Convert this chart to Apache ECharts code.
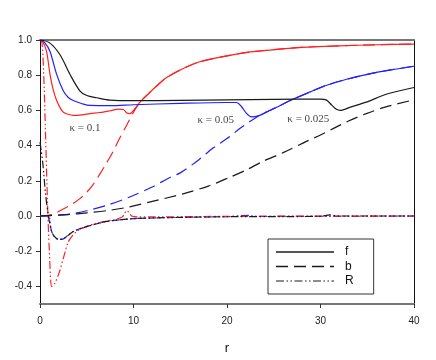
<!DOCTYPE html>
<html>
<head>
<meta charset="utf-8">
<script src="https://cdn.jsdelivr.net/npm/echarts@6/dist/echarts.min.js"></script>
<style>
  html, body { margin: 0; padding: 0; background: #fff; }
  #chart { width: 436px; height: 360px; }
</style>
</head>
<body>
<div id="chart"></div>
<script>
// r values and profiles, [r, value]
var fK0025 = [[0,1],[1,0.985],[2.14,0.916],[3.2,0.805],[4.28,0.71],[5,0.685],[6.06,0.672],[7.5,0.658],[10,0.655],[15,0.657],[20,0.66],[25,0.663],[30,0.664],[30.6,0.66],[31.2,0.63],[31.7,0.606],[32.1,0.6],[33.2,0.619],[34.9,0.647],[37.1,0.693],[40,0.73]]
var bK0025 = [[0,0],[3,0.008],[5,0.018],[7.5,0.033],[9.6,0.052],[11.8,0.08],[15.3,0.126],[18,0.17],[20.3,0.22],[22,0.26],[23.9,0.312],[26,0.36],[28.5,0.424],[30,0.46],[31.4,0.498],[33,0.54],[34.9,0.582],[37,0.62],[40,0.66]]
var RK0025 = [[0,0.42],[0.3,0.3],[0.6,0.12],[0.9,0],[1.2,-0.08],[1.5,-0.115],[2,-0.133],[2.5,-0.13],[3,-0.11],[3.5,-0.09],[4,-0.078],[5,-0.06],[6,-0.045],[7,-0.032],[8,-0.025],[10,-0.015],[15,-0.008],[20,-0.004],[30,-0.002],[31,0.006],[32,0],[40,0]]

var fK005 = [[0,1],[0.5,0.985],[1.07,0.935],[1.78,0.805],[2.5,0.71],[3,0.675],[3.56,0.656],[4.5,0.638],[5.35,0.628],[7.5,0.627],[10,0.632],[15,0.64],[20,0.645],[21,0.645],[21.5,0.625],[22.1,0.582],[22.6,0.563],[23.5,0.572],[24.5,0.598],[25.7,0.628],[26.7,0.655],[28.9,0.705],[30.5,0.74],[32.8,0.777],[35,0.805],[37.5,0.83],[40,0.851]]
var bK005 = [[0,0],[2,0.005],[3.2,0.011],[5,0.03],[7.1,0.06],[9.6,0.108],[12,0.165],[13.9,0.219],[15,0.245],[17,0.32],[18.5,0.386],[20,0.44],[21.4,0.498],[22.4,0.535],[23.2,0.563],[23.5,0.572],[24.5,0.598],[25.7,0.628],[26.7,0.655],[28.9,0.705],[30.5,0.74],[32.8,0.777],[35,0.805],[37.5,0.83],[40,0.851]]
var RK005 = [[0,0],[0.9,0],[1.2,-0.08],[1.5,-0.115],[2,-0.133],[2.5,-0.13],[3,-0.11],[3.5,-0.09],[4,-0.078],[5,-0.06],[6,-0.045],[7,-0.032],[8,-0.025],[10,-0.015],[15,-0.008],[20,-0.004],[22.3,0.004],[23,-0.002],[30,-0.002],[40,0]]

var fK01 = [[0,1],[0.3,0.99],[0.7,0.935],[1.07,0.805],[1.4,0.72],[1.78,0.656],[2.2,0.61],[2.5,0.59],[3,0.578],[3.56,0.572],[4.5,0.575],[5.35,0.582],[6.4,0.588],[7.5,0.598],[8.4,0.607],[8.9,0.605],[9.3,0.585],[9.6,0.582],[10,0.6],[10.7,0.647],[11.5,0.69],[12.5,0.74],[13.5,0.785],[15,0.83],[17,0.875],[20,0.91],[22.5,0.932],[25,0.945],[28,0.958],[32,0.967],[36,0.973],[40,0.977]]
var bK01 = [[0,0],[1,0.005],[1.6,0.015],[2.5,0.04],[3.5,0.07],[4.3,0.1],[5,0.135],[5.7,0.18],[6.4,0.238],[7.1,0.3],[7.84,0.368],[8.5,0.44],[9.27,0.516],[10,0.59],[10.7,0.647],[11.5,0.69],[12.5,0.74],[13.5,0.785],[15,0.83],[17,0.875],[20,0.91],[22.5,0.932],[25,0.945],[28,0.958],[32,0.967],[36,0.973],[40,0.977]]
var RK01 = [[0,1],[0.2,0.99],[0.4,0.8],[0.6,0.45],[0.8,0.08],[1,-0.2],[1.25,-0.4],[1.5,-0.39],[2,-0.33],[2.5,-0.24],[3,-0.15],[3.5,-0.11],[4,-0.085],[5,-0.058],[6,-0.042],[7,-0.03],[8,-0.02],[8.8,-0.005],[9.3,0.03],[9.8,0],[10.5,-0.005],[12,-0.005],[20,-0.002],[40,0]]

var yTicks = [-0.4, -0.2, 0, 0.2, 0.4, 0.6, 0.8, 1.0]
var kappaLabels = [['κ = 0.1', 4.8, 0.498], ['κ = 0.05', 18.8, 0.544], ['κ = 0.025', 28.7, 0.55]]

var BLACK = '#1a1a1a', BLUE = '#1f1fff', RED = '#ff2020'
var DASH = [12, 6]
var DASHDOT = [8, 2.5, 1.5, 2.5, 1.5, 2.5]

function curve(name, data, color, type) {
  return {
    name: name, type: 'line', data: data, symbol: 'none', showSymbol: false,
    smooth: 0.3, silent: true,
    lineStyle: { color: color, width: 1.2, type: type }
  }
}

var chart = echarts.init(document.getElementById('chart'), null, { renderer: 'canvas' })

var series = [
  curve('R', RK005, BLUE, DASHDOT),
  curve('R', RK01, RED, DASHDOT),
  curve('R', RK0025, BLACK, DASHDOT),
  curve('b', bK01, RED, DASH),
  curve('b', bK005, BLUE, DASH),
  curve('b', bK0025, BLACK, DASH),
  curve('f', fK01, RED, 'solid'),
  curve('f', fK005, BLUE, 'solid'),
  curve('f', fK0025, BLACK, 'solid'),
  {
    type: 'scatter', symbolSize: 0, silent: true,
    data: kappaLabels.map(function (k) { return { name: k[0], value: [k[1], k[2]] } }),
    label: {
      show: true, position: 'inside', formatter: '{b}',
      fontFamily: 'Liberation Serif', fontSize: 11, color: '#111'
    }
  }
]

var hidden = { color: 'rgba(0,0,0,0)', borderWidth: 0, opacity: 0 }

chart.setOption({
  animation: false,
  backgroundColor: '#fff',
  grid: { left: 40, right: 22, top: 40, bottom: 51 },
  legend: {
    data: [
      { name: 'f', itemStyle: hidden, lineStyle: { color: '#555', width: 2, type: 'solid', opacity: 1 } },
      { name: 'b', itemStyle: hidden, lineStyle: { color: BLACK, width: 1.3, type: DASH, opacity: 1 } },
      { name: 'R', itemStyle: hidden, lineStyle: { color: BLACK, width: 1.2, type: DASHDOT, opacity: 1 } }
    ],
    orient: 'vertical', left: 268, top: 239,
    itemWidth: 58, itemHeight: 14, itemGap: 2.5,
    padding: [7, 20, 7, 7],
    borderColor: '#333', borderWidth: 1,
    selectedMode: false,
    textStyle: { fontFamily: 'Liberation Sans', fontSize: 12, color: '#111', padding: [0, 0, 0, 6] }
  },
  xAxis: [{
    type: 'value', min: 0, max: 40, interval: 10,
    name: 'r', nameLocation: 'middle', nameGap: 38,
    nameTextStyle: { fontFamily: 'Liberation Sans', fontSize: 13, color: '#111' },
    axisLine: { show: true, onZero: false, lineStyle: { color: '#777', width: 2 } },
    axisTick: { show: true, length: 4, lineStyle: { color: '#333' } },
    axisLabel: { fontFamily: 'Liberation Sans', fontSize: 10, color: '#222', margin: 12 },
    splitLine: { show: false }
  }, {
    type: 'value', min: 0, max: 40, position: 'top',
    axisLine: { show: true, onZero: false, lineStyle: { color: '#777', width: 2 } },
    axisTick: { show: false }, axisLabel: { show: false }, splitLine: { show: false }
  }],
  yAxis: [{
    type: 'value', min: -0.5, max: 1.0,
    axisLine: { show: true, onZero: false, lineStyle: { color: '#111', width: 1 } },
    axisTick: { show: true, length: 4, customValues: yTicks, lineStyle: { color: '#333' } },
    axisLabel: {
      customValues: yTicks, fontFamily: 'Liberation Sans', fontSize: 10, color: '#222', margin: 8,
      formatter: function (v) { return v.toFixed(1) }
    },
    splitLine: { show: false }
  }, {
    type: 'value', min: -0.5, max: 1.0, position: 'right',
    axisLine: { show: true, onZero: false, lineStyle: { color: '#111', width: 1 } },
    axisTick: { show: false }, axisLabel: { show: false }, splitLine: { show: false }
  }],
  series: series
})
</script>
</body>
</html>
